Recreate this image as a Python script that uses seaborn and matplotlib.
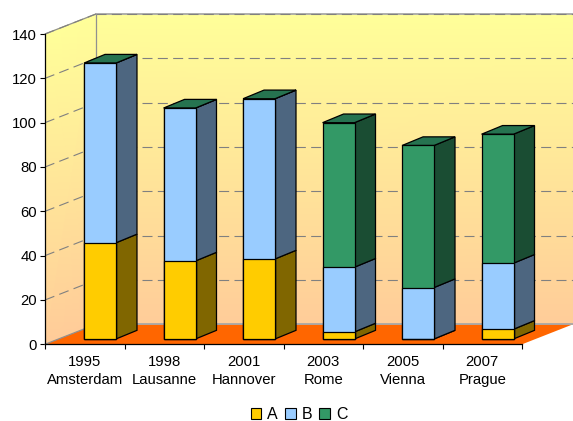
import matplotlib
matplotlib.use("Agg")
import numpy as np
import pandas as pd
import seaborn as sns
import matplotlib.pyplot as plt
from matplotlib.colors import LinearSegmentedColormap
from matplotlib.patches import Patch, Polygon
from matplotlib.transforms import Affine2D

years = ["1995", "1998", "2001", "2003", "2005", "2007"]
cities = ["Amsterdam", "Lausanne", "Hannover", "Rome", "Vienna", "Prague"]
series_a = [43.4, 35.2, 36.1, 3.2, 0.0, 4.4]
series_b = [81.1, 69.0, 72.3, 29.2, 23.2, 29.8]
series_c = [0.0, 0.0, 0.0, 65.2, 64.1, 58.2]
y_ticks = [0, 20, 40, 60, 80, 100, 120, 140]

front_colors = {"A": "#FFCC00", "B": "#99CCFF", "C": "#339966"}
side_colors = {"A": "#806600", "B": "#4D6680", "C": "#1A4D33"}
top_color = "#267350"

# Oblique projection of the box, in category and value units
BACK_DX, BACK_DY = 0.641, 9.03
BAR_WIDTH = 0.402
BAR_SHIFT_X, BAR_SHIFT_Y = 0.192, 2.4
BAR_DX, BAR_DY = 0.264, 3.9

sns.set_theme(style="white")
plt.rcParams["font.family"] = ["Liberation Sans", "DejaVu Sans"]

fig = plt.figure(figsize=(5.73, 4.21), dpi=100, facecolor="white")
ax = fig.add_axes([45 / 573, 1 - 344.3 / 421, 528 / 573, 330.3 / 421])
ax.set_facecolor("none")

x_left, x_right = -0.5, 5.5
y_top = max(y_ticks)
wall_cmap = LinearSegmentedColormap.from_list("wall", ["#FFCC99", "#FFFF99"])


def wall(xs, y_low, y_high):
    # Gouraud mesh running from the warm bottom edge to the pale top edge
    X = np.array([xs, xs])
    Y = np.array([y_low, y_high])
    C = np.array([[0.0, 0.0], [1.0, 1.0]])
    ax.pcolormesh(X, Y, C, shading="gouraud", cmap=wall_cmap, zorder=1)


wall([x_left, x_left + BACK_DX], [0, BACK_DY], [y_top, y_top + BACK_DY])
wall([x_left + BACK_DX, x_right + BACK_DX],
     [BACK_DY, BACK_DY], [y_top + BACK_DY, y_top + BACK_DY])

ax.add_patch(Polygon(
    [(x_left, 0), (x_left + BACK_DX, BACK_DY), (x_right + BACK_DX, BACK_DY), (x_right, 0)],
    closed=True, facecolor="#FF6600", edgecolor="none", zorder=1.5))

# Solid frame lines of the box, with the top and floor edges a little heavier
frame = dict(color="#909090", lw=0.9, zorder=2, clip_on=False)
heavy = dict(color="#a8a8a8", lw=1.3, zorder=2, clip_on=False)
ax.plot([x_left, x_left + BACK_DX], [y_top, y_top + BACK_DY], **frame)
ax.plot([x_left + BACK_DX, x_left + BACK_DX], [BACK_DY, y_top + BACK_DY], **frame)
ax.plot([x_left + BACK_DX, x_right + BACK_DX], [y_top + BACK_DY, y_top + BACK_DY], **heavy)
ax.plot([x_left, x_left + BACK_DX], [0, BACK_DY], **frame)
ax.plot([x_left + BACK_DX, x_right + BACK_DX], [BACK_DY, BACK_DY], **heavy)

grid_style = dict(color="#808080", lw=0.8, zorder=2.1, clip_on=False)
dashes = (0, (9, 4.8))
for v in y_ticks[1:]:
    ax.plot([x_left, x_left + BACK_DX], [v, v + BACK_DY], ls=dashes, **grid_style)
    ax.plot([x_left + BACK_DX, x_right + BACK_DX], [v + BACK_DY, v + BACK_DY], ls=dashes, **grid_style)

labels = [f"{y}\n{c}" for y, c in zip(years, cities)]
a = np.array(series_a)
b = np.array(series_b)
c = np.array(series_c)
df = pd.DataFrame({"edition": labels, "A": a, "AB": a + b, "ABC": a + b + c})

# Side and top faces, worked out from the same stacked values
for i in range(len(labels)):
    x0 = i + BAR_SHIFT_X + BAR_WIDTH / 2
    x1 = x0 + BAR_DX
    levels = [0.0, a[i], a[i] + b[i], a[i] + b[i] + c[i]]
    for name, lo, hi in zip("ABC", levels[:-1], levels[1:]):
        lo_y, hi_y = lo + BAR_SHIFT_Y, hi + BAR_SHIFT_Y
        ax.add_patch(Polygon(
            [(x0, lo_y), (x1, lo_y + BAR_DY), (x1, hi_y + BAR_DY), (x0, hi_y)],
            closed=True, facecolor=side_colors[name], edgecolor="black", lw=0.9, zorder=3))
    top_y = levels[-1] + BAR_SHIFT_Y
    xl = x0 - BAR_WIDTH
    ax.add_patch(Polygon(
        [(xl, top_y), (x0, top_y), (x1, top_y + BAR_DY), (xl + BAR_DX, top_y + BAR_DY)],
        closed=True, facecolor=top_color, edgecolor="black", lw=0.9, zorder=3))

# Front faces: cumulative totals drawn from the tallest stack to the shortest
shift = Affine2D().translate(BAR_SHIFT_X, BAR_SHIFT_Y) + ax.transData
for column, name in [("ABC", "C"), ("AB", "B"), ("A", "A")]:
    before = len(ax.patches)
    sns.barplot(data=df, x="edition", y=column, color=front_colors[name], saturation=1,
                width=BAR_WIDTH, edgecolor="black", linewidth=0.9, zorder=4,
                errorbar=None, ax=ax)
    for patch in ax.patches[before:]:
        patch.set_transform(shift)

ax.set_xlim(x_left, x_right + BACK_DX)
ax.set_ylim(0, y_top + BACK_DY)
ax.set_xlabel("")
ax.set_ylabel("")

ax.set_yticks(y_ticks)
ax.set_xticks(np.arange(x_left, x_right + 1))
ax.set_xticklabels([])
ax.set_xticks(np.arange(len(labels)), labels, minor=True, linespacing=1.3)
ax.tick_params(axis="x", which="major", length=3.6, width=0.8, color="black", bottom=True)
ax.tick_params(axis="x", which="minor", length=0, pad=8, labelsize=10.7, labelcolor="black")
ax.tick_params(axis="y", length=3.6, width=0.8, color="black", left=True, pad=2,
               labelsize=10.7, labelcolor="black")

for side in ("top", "right"):
    ax.spines[side].set_visible(False)
for side in ("left", "bottom"):
    ax.spines[side].set_color("black")
    ax.spines[side].set_linewidth(0.9)
    ax.spines[side].set_zorder(5)
ax.spines["left"].set_bounds(0, y_top)
ax.spines["bottom"].set_bounds(x_left, x_right)

handles = [Patch(facecolor=front_colors[n], edgecolor="black", linewidth=0.8, label=n) for n in "ABC"]
fig.legend(handles=handles, loc="center", bbox_to_anchor=(299 / 573, 1 - 414.5 / 421),
           ncol=3, frameon=False, fontsize=11.5, handlelength=0.68, handleheight=0.68,
           handletextpad=0.38, columnspacing=0.42, labelcolor="black")

fig.savefig("out.png", dpi=100)
